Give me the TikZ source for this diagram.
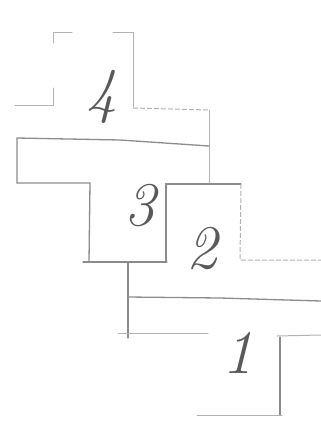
\documentclass[tikz,border=0pt]{standalone}
\begin{document}
\begin{tikzpicture}[x=1pt,y=-1pt,
  sk/.style={draw=black!45,line width=1.3pt,line cap=round},
  skf/.style={draw=black!30,line width=1pt,line cap=round},
  skd/.style={draw=black!30,line width=1pt,dash pattern=on 5pt off 2pt},
  num/.style={text=black!65,font=\fontsize{62}{62}\selectfont\itshape,inner sep=0pt}]
\useasboundingbox (0,0) rectangle (321,429);
% shape 4
\draw[skf] (53,43) -- (53,32) -- (72,32);
\draw[skf] (113,32) -- (133,32) -- (133,107);
\draw[skf] (15,105) -- (53,105) -- (53,88);
\draw[skd] (133,108) -- (209,110);
\draw[skf] (209,110) -- (209,183);
% shape 3
\draw[sk] (17,183) -- (17,138) -- (120,140) -- (209,146);
\draw[sk] (17,183) -- (90,183) -- (89,262);
\draw[sk] (83,262) -- (167,262);
% shape 2
\draw[sk] (166,262) -- (166,184) -- (241,184);
\draw[skd] (241,184) -- (240,260) -- (321,260);
% shape 1
\draw[sk] (128,262) -- (128,338);
\draw[sk] (128,297) -- (220,298) -- (321,301);
\draw[skf] (118,333) -- (208,333);
\draw[skf] (277,336) -- (321,335);
\draw[sk] (280,337) -- (280,415);
\draw[skf] (197,415) -- (282,415);
% labels
\node[num] (n4) at (102,97) {4};
\node[num] (n3) at (140,206) {3};
\node[num] (n2) at (202,249) {2};
\node[num] (n1) at (238,353) {1};
\end{tikzpicture}
\end{document}
